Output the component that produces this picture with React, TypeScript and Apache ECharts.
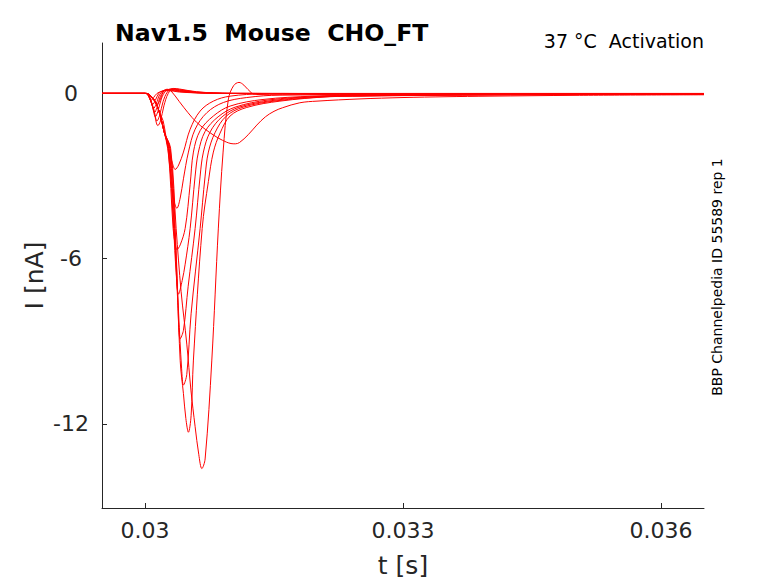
import React, { useEffect, useRef } from "react";
import * as echarts from "echarts";

// time [s], current [nA]
const traceSlow: number[][] = [
  [0.0295, 0], [0.03, 0], [0.03005, -0.05], [0.0301, -0.25], [0.03014, -0.4], [0.03018, -0.2],
  [0.03022, 0.1], [0.03026, 0.15], [0.0303, 0.1], [0.0304, -0.3], [0.0305, -0.7], [0.0306, -1.05],
  [0.0307, -1.3], [0.0308, -1.52], [0.0309, -1.7], [0.031, -1.82], [0.03105, -1.83], [0.0311, -1.78],
  [0.0312, -1.5], [0.0313, -1.15], [0.0314, -0.85], [0.0315, -0.65], [0.0316, -0.52], [0.0318, -0.34],
  [0.032, -0.28], [0.0325, -0.2], [0.033, -0.15], [0.0335, -0.12], [0.034, -0.1], [0.035, -0.07], [0.0365, -0.05],
];
const traceA8: number[][] = [
  [0.0295, 0], [0.03, 0], [0.030037, -0.02], [0.030119, -0.3], [0.030177, -0.8], [0.030223, -1.4],
  [0.030298, -2.0], [0.030362, -4.9], [0.03042, -7.2], [0.030486, -9.1], [0.030535, -10.8], [0.030583, -12.1],
  [0.030625, -13.1], [0.030661, -13.62], [0.030699, -13.27], [0.030777, -9.68], [0.030853, -4.89], [0.030908, -2.13],
  [0.03097, -0.2], [0.03103, 0.28], [0.031093, 0.4], [0.03115, 0.3], [0.031244, 0.0], [0.0313, -0.04],
  [0.0316, -0.05], [0.0325, -0.05], [0.0335, -0.04], [0.035, -0.03], [0.0365, -0.03],
];
const traceA7: number[][] = [
  [0.0295, 0], [0.03, 0], [0.030037, -0.02], [0.030119, -0.3], [0.030177, -0.8], [0.030223, -1.4],
  [0.030293, -2.0], [0.030351, -4.9], [0.030409, -9.7], [0.030447, -10.9], [0.030475, -11.8], [0.030505, -12.3],
  [0.030536, -11.7], [0.030563, -9.68], [0.030665, -4.9], [0.030737, -3.2], [0.030795, -2.13], [0.030873, -1.44],
  [0.030989, -0.82], [0.031183, -0.51], [0.031569, -0.28], [0.032149, -0.12], [0.0325, -0.1], [0.0335, -0.065],
  [0.035, -0.045], [0.0365, -0.035],
];
const traceA6: number[][] = [
  [0.0295, 0], [0.03, 0], [0.030037, -0.02], [0.030119, -0.3], [0.030177, -0.8], [0.030223, -1.4],
  [0.030287, -2.0], [0.030345, -4.9], [0.030391, -8.0], [0.030426, -10.0], [0.030447, -10.59], [0.030486, -10.2],
  [0.030536, -8.0], [0.030641, -4.9], [0.030699, -3.0], [0.030737, -2.13], [0.030815, -1.42], [0.030943, -0.83],
  [0.03114, -0.5], [0.031524, -0.27], [0.032103, -0.12], [0.0325, -0.09], [0.0335, -0.06], [0.035, -0.04], [0.0365, -0.03],
];
const traceA5: number[][] = [
  [0.0295, 0], [0.03, 0], [0.030037, -0.02], [0.030119, -0.3], [0.030177, -0.8], [0.030223, -1.4],
  [0.030281, -2.0], [0.030339, -4.9], [0.03038, -7.5], [0.030409, -8.91], [0.030447, -8.6], [0.030502, -7.0],
  [0.030583, -4.9], [0.030641, -3.0], [0.030679, -2.13], [0.030757, -1.4], [0.030896, -0.85], [0.031093, -0.5],
  [0.031476, -0.26], [0.032057, -0.11], [0.0325, -0.085], [0.0335, -0.055], [0.035, -0.04], [0.0365, -0.03],
];
const traceA4: number[][] = [
  [0.0295, 0], [0.03, 0], [0.030037, -0.02], [0.030119, -0.3], [0.030177, -0.8], [0.030223, -1.4],
  [0.030275, -2.0], [0.030333, -4.9], [0.030362, -6.5], [0.030389, -7.29], [0.030432, -6.8], [0.030467, -6.2],
  [0.030525, -4.9], [0.030583, -3.0], [0.030621, -2.13], [0.030699, -1.38], [0.03085, -0.85], [0.031047, -0.5],
  [0.03143, -0.24], [0.03201, -0.11], [0.0325, -0.08], [0.0335, -0.05], [0.035, -0.035], [0.0365, -0.025],
];
const traceA3: number[][] = [
  [0.0295, 0], [0.03, 0], [0.030037, -0.02], [0.030119, -0.3], [0.030177, -0.8], [0.030223, -1.4],
  [0.030269, -2.0], [0.030327, -4.9], [0.030351, -5.5], [0.03037, -5.67], [0.030409, -5.5], [0.030467, -4.9],
  [0.030525, -3.3], [0.030563, -2.13], [0.030641, -1.35], [0.030795, -0.82], [0.030989, -0.46], [0.031372, -0.22],
  [0.031952, -0.1], [0.0325, -0.07], [0.0335, -0.05], [0.035, -0.03], [0.0365, -0.02],
];
const traceA2: number[][] = [
  [0.0295, 0], [0.03, 0], [0.030037, -0.02], [0.030119, -0.3], [0.030177, -0.8], [0.030223, -1.4],
  [0.030264, -2.0], [0.030316, -3.5], [0.030345, -4.0], [0.03037, -4.17], [0.030409, -3.8], [0.030447, -3.1],
  [0.030505, -2.13], [0.030583, -1.3], [0.030719, -0.7], [0.030911, -0.33], [0.031183, -0.15], [0.031569, -0.06],
  [0.0325, -0.04], [0.0335, -0.03], [0.035, -0.02], [0.0365, -0.02],
];
const traceA1: number[][] = [
  [0.0295, 0], [0.03, 0], [0.030037, -0.02], [0.030119, -0.3], [0.030177, -0.75], [0.030211, -1.0],
  [0.030269, -2.0], [0.030316, -2.5], [0.030351, -2.76], [0.030391, -2.6], [0.030447, -2.13], [0.030525, -1.3],
  [0.030641, -0.64], [0.030795, -0.28], [0.030989, -0.1], [0.031372, -0.02], [0.0325, -0.01], [0.0365, -0.01],
];
const traceC1: number[][] = [
  [0.0295, 0], [0.03, 0], [0.03003, -0.03], [0.03005, -0.15], [0.03007, -0.25], [0.0301, -0.15],
  [0.03014, 0.0], [0.0302, 0.08], [0.03027, 0.1], [0.0304, 0.05], [0.0306, 0.02], [0.031, 0], [0.0365, 0],
];
const traceC2: number[][] = [
  [0.0295, 0], [0.03, 0], [0.03003, -0.03], [0.03006, -0.22], [0.03009, -0.4], [0.03012, -0.25],
  [0.03016, 0.0], [0.03021, 0.1], [0.03028, 0.12], [0.0304, 0.07], [0.0306, 0.02], [0.031, 0], [0.0365, -0.01],
];
const traceC3: number[][] = [
  [0.0295, 0], [0.03, 0], [0.03003, -0.03], [0.03007, -0.3], [0.0301, -0.55], [0.03013, -0.38],
  [0.03017, -0.05], [0.03022, 0.1], [0.03029, 0.14], [0.0304, 0.09], [0.0306, 0.03], [0.031, 0], [0.0365, -0.01],
];
const traceC4: number[][] = [
  [0.0295, 0], [0.03, 0], [0.03003, -0.03], [0.03008, -0.4], [0.03011, -0.7], [0.03014, -0.5],
  [0.03018, -0.1], [0.03023, 0.1], [0.0303, 0.15], [0.0304, 0.1], [0.0306, 0.03], [0.031, 0], [0.0365, -0.01],
];
const traceC5: number[][] = [
  [0.0295, 0], [0.03, 0], [0.03004, -0.05], [0.03009, -0.5], [0.03012, -0.85], [0.03015, -0.65],
  [0.03019, -0.2], [0.03024, 0.08], [0.03031, 0.16], [0.0304, 0.12], [0.0306, 0.04], [0.031, 0], [0.0365, -0.02],
];
const traceC6: number[][] = [
  [0.0295, 0], [0.03, 0], [0.03004, -0.05], [0.0301, -0.55], [0.03014, -1.0], [0.03017, -0.8],
  [0.03021, -0.3], [0.03026, 0.05], [0.03032, 0.17], [0.0304, 0.14], [0.0306, 0.05], [0.031, 0], [0.0365, -0.02],
];
const traceC7: number[][] = [
  [0.0295, 0], [0.03, 0], [0.03004, -0.05], [0.0301, -0.6], [0.03015, -1.17], [0.03018, -1.0],
  [0.03022, -0.45], [0.03027, 0.0], [0.03033, 0.18], [0.0304, 0.16], [0.0306, 0.06], [0.031, 0], [0.0365, -0.02],
];

const traces = [
  traceC1, traceC2, traceC3, traceC4, traceC5, traceC6, traceC7,
  traceA1, traceA2, traceA3, traceA4, traceA5, traceA6, traceA7, traceA8, traceSlow,
];

const xTicks = [0.03, 0.033, 0.036];
const xTickLabels = ["0.03", "0.033", "0.036"];
const yTicks = [-12, -6, 0];
const yTickLabels = ["-12", "-6", "0"];
const xRange = [0.0295, 0.0365];
const yRange = [-15.05, 1.83];

const titleText = "Nav1.5  Mouse  CHO_FT";
const subText = "37 °C  Activation";
const sideText = "BBP Channelpedia ID 55589 rep 1";
const xName = "t [s]";
const yName = "I [nA]";

const FONT = "DejaVu Sans";
const AXIS_COLOR = "#262626";

export default function App() {
  const ref = useRef<HTMLDivElement>(null);
  useEffect(() => {
    if (!ref.current) return;
    const chart = echarts.init(ref.current, undefined, { renderer: "svg" });
    const labelFor = (ticks: number[], labels: string[]) => (v: number) => {
      for (let i = 0; i < ticks.length; i++) {
        if (Math.abs(ticks[i] - v) < 1e-9) return labels[i];
      }
      return "";
    };
    chart.setOption({
      animation: false,
      backgroundColor: "#ffffff",
      grid: { left: 102, right: 74, top: 43, bottom: 71, containLabel: false },
      title: [
        {
          text: titleText,
          left: 115,
          top: 21,
          padding: 0,
          textStyle: { fontFamily: FONT, fontSize: 23.6, fontWeight: "bold", color: "#000" },
        },
      ],
      graphic: [
        {
          type: "text",
          x: 704,
          y: 41,
          style: {
            text: subText,
            fontFamily: FONT,
            fontSize: 19,
            fill: "#000",
            align: "right",
            verticalAlign: "middle",
          },
        },
        {
          type: "text",
          x: 717,
          y: 277,
          rotation: Math.PI / 2,
          style: {
            text: sideText,
            fontFamily: FONT,
            fontSize: 14,
            fill: "#000",
            align: "center",
            verticalAlign: "middle",
          },
        },
      ],
      xAxis: {
        type: "value",
        min: xRange[0],
        max: xRange[1],
        name: xName,
        nameLocation: "middle",
        nameGap: 45,
        nameMoveOverlap: false,
        nameTextStyle: { fontFamily: FONT, fontSize: 25, color: AXIS_COLOR },
        axisLine: { show: true, onZero: false, lineStyle: { color: AXIS_COLOR, width: 1 } },
        axisTick: { show: true, inside: true, length: 5, customValues: xTicks, lineStyle: { color: AXIS_COLOR } },
        axisLabel: {
          customValues: xTicks,
          formatter: labelFor(xTicks, xTickLabels),
          fontFamily: FONT,
          fontSize: 22,
          color: AXIS_COLOR,
          margin: 11,
        },
        splitLine: { show: false },
      },
      yAxis: {
        type: "value",
        min: yRange[0],
        max: yRange[1],
        name: yName,
        nameLocation: "middle",
        nameGap: 55,
        nameMoveOverlap: false,
        nameTextStyle: { fontFamily: FONT, fontSize: 25, color: AXIS_COLOR },
        axisLine: { show: true, onZero: false, lineStyle: { color: AXIS_COLOR, width: 1 } },
        axisTick: { show: true, inside: true, length: 5, customValues: yTicks, lineStyle: { color: AXIS_COLOR } },
        axisLabel: {
          customValues: yTicks,
          formatter: labelFor(yTicks, yTickLabels),
          fontFamily: FONT,
          fontSize: 22,
          color: AXIS_COLOR,
          align: "center",
          margin: 31,
        },
        splitLine: { show: false },
      },
      series: traces.map((d, i) => ({
        type: "line",
        name: "trace" + i,
        data: d,
        showSymbol: false,
        smooth: 0.35,
        lineStyle: { color: "#ff0000", width: 1 },
        emphasis: { disabled: true },
      })),
    });
    return () => chart.dispose();
  }, []);
  return (
    <div
      ref={ref}
      style={{ position: "fixed", left: 0, top: 0, width: 778, height: 583, background: "#fff" }}
    />
  );
}
